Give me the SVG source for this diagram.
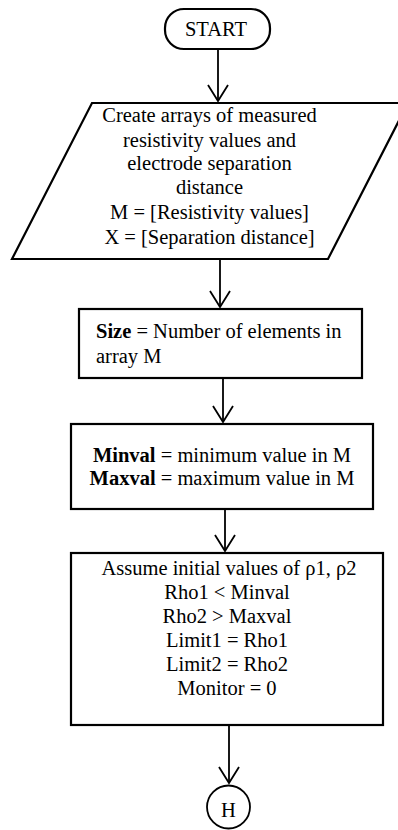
<svg xmlns="http://www.w3.org/2000/svg" width="398" height="830" viewBox="0 0 398 830">
<defs>
<style>
.shape{fill:#fff;stroke:#000;stroke-width:2.2}
.conn{fill:none;stroke:#000;stroke-width:1.8}
.head{fill:none;stroke:#000;stroke-width:1.8;stroke-linejoin:miter}
text{font-family:"Liberation Serif","Times New Roman",serif;font-size:20.5px;fill:#000}
.c{text-anchor:middle}
.b{font-weight:bold}
</style>
</defs>
<rect width="398" height="830" fill="#fff"/>
<g id="connectors">
<line class="conn" x1="218" y1="49" x2="218" y2="101"/>
<polyline class="head" points="208,85 218,101 228,85"/>
<line class="conn" x1="220" y1="259" x2="220" y2="307"/>
<polyline class="head" points="210,291 220,307 230,291"/>
<line class="conn" x1="223" y1="378" x2="223" y2="422"/>
<polyline class="head" points="213,406 223,422 233,406"/>
<line class="conn" x1="225" y1="509" x2="225" y2="551"/>
<polyline class="head" points="215,535 225,551 235,535"/>
<line class="conn" x1="229" y1="725" x2="229" y2="783"/>
<polyline class="head" points="219,767 229,783 239,767"/>
</g>
<g id="start">
<rect class="shape" x="165" y="9" width="105" height="40" rx="19" ry="19"/>
<text class="c" x="216" y="36">START</text>
</g>
<g id="input">
<polygon class="shape" points="92,103 408,103 328,259 12,259"/>
<text class="c" x="209.5" y="122">Create arrays of measured</text>
<text class="c" x="209.5" y="147">resistivity values and</text>
<text class="c" x="209.5" y="170">electrode separation</text>
<text class="c" x="209.5" y="194">distance</text>
<text class="c" x="209.5" y="219">M = [Resistivity values]</text>
<text class="c" x="209.5" y="244">X = [Separation distance]</text>
</g>
<g id="size">
<rect class="shape" x="79" y="309" width="283" height="69"/>
<text x="96" y="338"><tspan class="b">Size</tspan> = Number of elements in</text>
<text x="96" y="363">array M</text>
</g>
<g id="minmax">
<rect class="shape" x="71" y="424" width="302" height="85"/>
<text class="c" x="222" y="462"><tspan class="b">Minval</tspan> = minimum value in M</text>
<text class="c" x="222" y="485"><tspan class="b">Maxval</tspan> = maximum value in M</text>
</g>
<g id="init">
<rect class="shape" x="71" y="553" width="312" height="172"/>
<text class="c" x="229" y="575">Assume initial values of ρ1, ρ2</text>
<text class="c" x="227" y="599">Rho1 &lt; Minval</text>
<text class="c" x="227" y="623">Rho2 &gt; Maxval</text>
<text class="c" x="227" y="647">Limit1 = Rho1</text>
<text class="c" x="227" y="671">Limit2 = Rho2</text>
<text class="c" x="227" y="695">Monitor = 0</text>
</g>
<g id="connector-h">
<circle class="shape" cx="228.5" cy="807" r="21.5" style="stroke-width:1.8"/>
<text class="c" x="228.5" y="817">H</text>
</g>
</svg>
